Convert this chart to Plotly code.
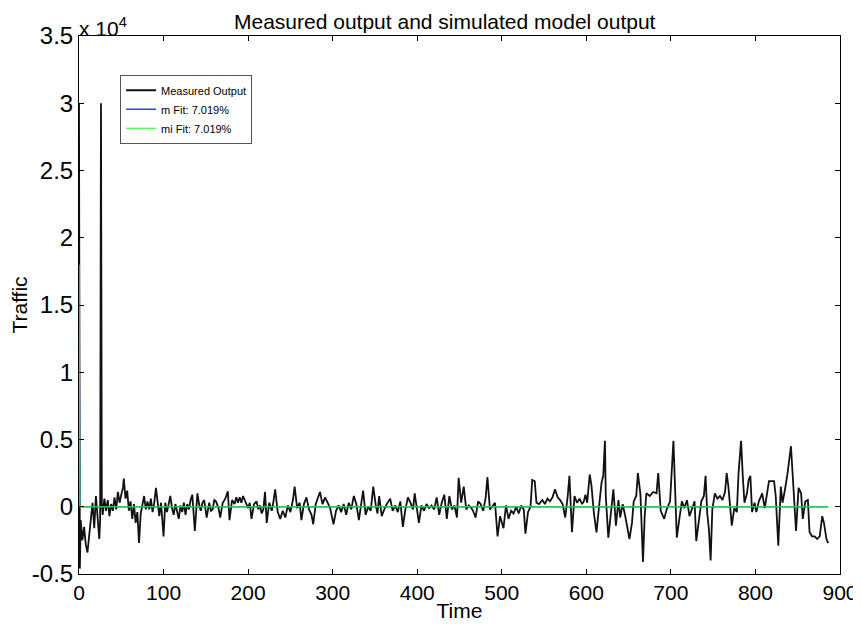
import plotly.graph_objects as go

# values (time step, traffic)
time_pts = [
    0, 1, 2, 4, 6, 8, 10, 12, 14, 16, 18, 20, 22, 24, 25, 26, 27, 28, 30, 32, 34, 36, 38, 40, 42, 44, 46, 48, 50,
    52, 53, 55, 57, 59, 61, 63, 65, 67, 69, 71, 73, 75, 77, 79, 81, 83, 85, 87, 89, 91, 93, 95, 97, 100, 102, 104,
    106, 108, 110, 112, 114, 116, 118, 120, 122, 124, 126, 128, 130, 132, 134, 137, 140, 142, 144, 146, 148,
    151, 154, 156, 158, 160, 162, 165, 167, 170, 173, 176, 178, 181, 184, 186, 188, 190, 192, 194, 196, 198, 200,
    202, 204, 207, 210, 212, 214, 216, 218, 220, 222, 225, 228, 230, 232, 235, 238, 241, 244, 247, 250, 253, 255,
    258, 261, 263, 266, 269, 272, 275, 277, 280, 283, 285, 288, 291, 294, 297,
    301, 304, 307, 310, 313, 316, 319, 322, 325, 328, 331, 334, 336, 339, 342, 345, 348, 351, 353, 355, 358, 361,
    364, 368, 371, 374, 377, 380, 383, 386, 389, 392, 395, 397, 400, 402, 405, 408, 411, 414, 417, 420, 423, 426,
    429, 432, 435, 438, 441, 444,
    447, 449, 452, 455, 458, 461, 464, 466, 469, 472, 475, 478, 481, 483, 486, 489, 492, 495, 498, 502, 505, 508,
    511, 514, 517, 520, 523, 526, 528, 531, 534, 536, 539, 541, 544, 548, 551, 554, 557, 560, 563, 566, 569, 572,
    575, 578, 580, 583, 586, 589, 592,
    595, 597, 599, 601, 604, 606, 609, 612, 615, 618, 620, 622, 623, 626, 628, 632, 635, 638, 640, 643, 646, 648,
    651, 654, 656, 659, 661, 664, 667, 669, 671, 675, 679, 683, 685, 688, 692, 695, 699, 703, 705, 707, 710, 713,
    716, 719, 722, 725, 728, 730, 733, 736, 739,
    741, 743, 745, 747, 749, 752, 755, 758, 761, 764, 766, 768, 770, 772, 775, 778, 780, 783, 785, 787, 790, 792,
    794, 796, 799, 801, 804, 808, 811, 814, 816, 819, 822, 824, 827, 830, 832, 835, 838, 842, 844, 846, 848, 851,
    854, 856, 859, 862, 864, 867, 870, 873, 876, 879, 881, 884, 886,
]
measured = [
    30000, -4600, -1000, -2500, -1500, -2800, -3400, -2200, -1200, 300, -1600, 800, -800, -2400, -1000, 30000, 200,
    -600, 600, -300, 500, -700, 200, -300, 700, -200, 1100, 300, 900, 1400, 2100, 600, 1200, -300, 400, -900, 200,
    -1200, -400, -2700, -500, 300, 800, -200, 400, -200, 600, -400, 300, 1400, 200, -700, 300, -2200, 300, -400,
    200, 800, -100, -600, 200, -300, -900, 100, -400, 300, -600, 200, -200, 500, 900, -1800, 1000, 200, -300, 300,
    500,
    -800, 300, -300, -200, 500, 400, -100, -800, 300, 600, 1150, -1000, 500, 200, 700, 300, 700, 300, 800, 500, 200,
    -100, 300, -900, 200, 400, -200, 100, -500, -200, 1100, -1200, 300, -300, 400, 1300, -400, -900, -300, -800,
    100, -400, 500, 1500, -100, 300, -1000, 200, 700, -200, -600, -1300, 200, 800, 1100, 200, 700, 300, -100,
    -1300, -300, 100, -400, 200, -600, 300, -200, 800, 200, -1000, 300, 1200, -600, 0, -300, 1500, 100, -500, 800,
    -700, -200, 200, 600, -300, 100, -400, 400, -1500, -200, 700, 300, -200, 1000, -300, -1200, 100, -300, 200,
    -100, 100, -200, 700, -600, 300, 900, -900, 800, -200, 100,
    -800, 2150, 300, 1500, -200, 100, -100, -300, -800, 400, 200, -300, 700, 2200, -200, 100, 300, -2200, -700,
    -1600, 100, -900, -300, -500, 0, -500, 100, -200, -2000, -400, 0, 2000, 1900, 300, 200, 500, 200, 600, 400,
    700, 1300, 700, 500, 200, -800, 800, 2300, -1900, 800, 300, 600,
    200, 400, 900, 300, 2400, 1600, -500, -1900, 0, 1800, 2300, 4900, 800, -2300, -1100, 1300, -1400, 500, -800,
    200, -700, -1400, -2400, -1200, 400, 800, 2500, 900, -4100, -700, 1000, 800, 1100, 1000, 2500, -300, -900,
    -200, 400, 4900, 1000, -2300, -900, 400, -100, 500, -700, -200, 400, -2550, -1200, 400, 800,
    2300, -500, -1700, -4000, -200, 1000, 600, 800, 500, 1100, 2500, 1500, 200, -1400, -100, -400, 2500, 4900,
    2300, 300, 1000, 2000, 2300, -400, 300, -400, 400, 1000, -100, 1300, 1900, 1900, 1900, 800, -2900, 1500, 300,
    1300, 2500, 4500, 2500, 300, -1800, 1400, 1000, -900, 400, 500, -1900, -2200, -2200, -2400, -2200, -700,
    -1200, -2400, -2700,
]

model_time = [0, 1, 886]
m_fit = [18000, 0, 0]
mi_fit = [18000, 0, 0]

y_ticks = [-5000, 0, 5000, 10000, 15000, 20000, 25000, 30000, 35000]
y_labels = ['-0.5', '0', '0.5', '1', '1.5', '2', '2.5', '3', '3.5']

font = 'Liberation Sans, Arial, sans-serif'

fig = go.Figure()
fig.add_trace(go.Scatter(x=time_pts, y=measured, mode='lines', name='Measured Output',
                         line=dict(color='#111', width=1.8)))
fig.add_trace(go.Scatter(x=model_time, y=m_fit, mode='lines', name='m Fit: 7.019%',
                         line=dict(color='rgb(60,60,255)', width=1.4)))
fig.add_trace(go.Scatter(x=model_time, y=mi_fit, mode='lines', name='mi Fit: 7.019%',
                         line=dict(color='rgb(40,240,40)', width=1.2)))

# page body adds an 8px margin, so the figure is 8px smaller than the window
fig.update_layout(
    width=853, height=618,
    margin=dict(l=71, r=21, t=28, b=52, autoexpand=False),
    paper_bgcolor='white', plot_bgcolor='white',
    font=dict(family=font, color='black'),
    title=dict(text='Measured output and simulated model output', x=0.512, xanchor='center',
               y=0.99, yanchor='top', font=dict(size=21)),
    showlegend=True,
    legend=dict(x=0.054, y=0.928, xanchor='left', yanchor='top', bgcolor='white',
                bordercolor='#555', borderwidth=1, font=dict(size=11), itemwidth=30,
                tracegroupgap=0),
    annotations=[dict(text='x 10<sup>4</sup>', xref='paper', yref='paper', x=-0.002, y=1,
                      xanchor='left', yanchor='bottom', yshift=-6, showarrow=False,
                      font=dict(size=21))],
)
fig.update_xaxes(range=[0, 900], dtick=100, ticks='inside', ticklen=5, tickcolor='black',
                 showline=True, linecolor='black', linewidth=1, mirror='ticks', showgrid=False,
                 zeroline=False, tickfont=dict(size=21), automargin=False,
                 title=dict(text='Time', font=dict(size=21), standoff=0))
fig.update_yaxes(range=[-5000, 35000], tickvals=y_ticks, ticktext=y_labels, ticks='inside', ticklen=5,
                 tickcolor='black', showline=True, linecolor='black', linewidth=1, mirror='ticks',
                 showgrid=False, zeroline=False, tickfont=dict(size=24), automargin=False,
                 title=dict(text='Traffic', font=dict(size=21), standoff=0))

fig.write_html("out.html")
